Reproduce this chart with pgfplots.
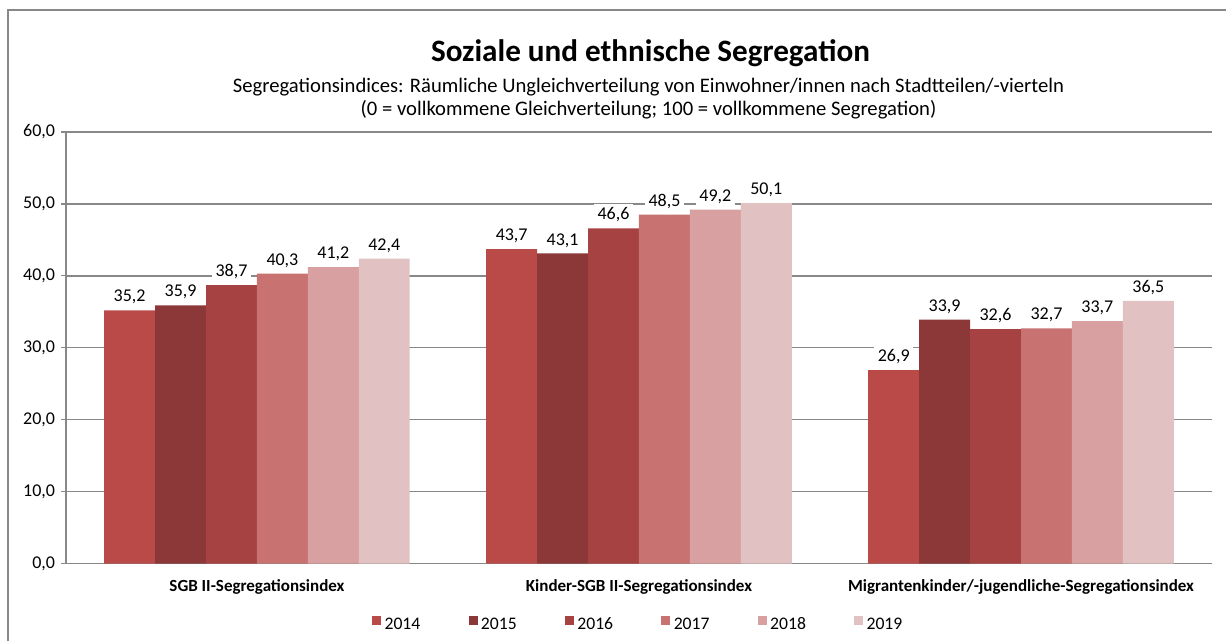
\documentclass[border=0pt]{standalone}
\usepackage{pgfplots}
\pgfplotsset{compat=1.18}
\usepackage{fontspec}
\setmainfont{Carlito}
\definecolor{cA}{HTML}{B94A47}
\definecolor{cB}{HTML}{8C3838}
\definecolor{cC}{HTML}{A64241}
\definecolor{cD}{HTML}{C87271}
\definecolor{cE}{HTML}{D8A0A0}
\definecolor{cF}{HTML}{E2C1C3}
\definecolor{gridc}{HTML}{888888}
\begin{document}
\begin{tikzpicture}[x=0.6pt,y=0.6pt]
\begin{axis}[
  width=688.2pt, height=259.2pt, scale only axis,
  ybar=0pt, bar width=0.1333,
  xmin=-0.5, xmax=2.5, ymin=0, ymax=60,
  ytick={0,10,...,60},
  xtick={0,1,2},
  xticklabels={SGB II-Segregationsindex, Kinder-SGB II-Segregationsindex, Migrantenkinder/-jugendliche-Segregationsindex},
  xticklabel style={font=\fontsize{10.2}{12}\selectfont\bfseries, yshift=-3pt},
  x tick style={draw=none},
  extra x ticks={-0.5,0.5,1.5,2.5},
  extra x tick labels={},
  extra x tick style={tick style={draw=gridc, line width=0.8pt}, major tick length=4pt, tick align=outside, grid=none},
  ymajorgrids, grid style={gridc, line width=0.9pt},
  axis line style={gridc, line width=0.9pt},
  axis x line*=bottom, axis y line*=left,
  y tick style={draw=gridc, line width=0.8pt}, major tick length=3pt, tick align=outside,
  yticklabel style={font=\fontsize{10.8}{13}\selectfont, /pgf/number format/.cd, fixed, fixed zerofill, precision=1, use comma, assume math mode=true},
  nodes near coords,
  every node near coord/.append style={font=\fontsize{10.8}{13}\selectfont, fill=white, inner sep=2pt, yshift=1.5pt, /pgf/number format/.cd, fixed, fixed zerofill, precision=1, use comma, assume math mode=true},
  legend columns=6,
  legend style={draw=none, at={(0.5,-0.141)}, anchor=center, font=\fontsize{10.6}{13}\selectfont,
    nodes={text height=1.6ex, text depth=0.2ex},
    column sep=0pt, /tikz/every odd column/.append style={column sep=0pt},
    /tikz/every even column/.append style={column sep=27pt}},
  legend image code/.code={\fill[#1] (0pt,-0.4pt) rectangle (5.4pt,5pt);},
]
\addplot[fill=cA, draw=none] coordinates {(0,35.2) (1,43.7) (2,26.9)};
\addplot[fill=cB, draw=none] coordinates {(0,35.9) (1,43.1) (2,33.9)};
\addplot[fill=cC, draw=none] coordinates {(0,38.7) (1,46.6) (2,32.6)};
\addplot[fill=cD, draw=none] coordinates {(0,40.3) (1,48.5) (2,32.7)};
\addplot[fill=cE, draw=none] coordinates {(0,41.2) (1,49.2) (2,33.7)};
\addplot[fill=cF, draw=none] coordinates {(0,42.4) (1,50.1) (2,36.5)};
\legend{2014,2015,2016,2017,2018,2019}
\end{axis}
\begin{scope}[shift={(-66,-78)}]
\path (0,0) rectangle (1227,642);
\draw[gridc,line width=1.2pt] (8,0) -- (8,632) -- (1227,632);
\node[font=\fontsize{18.7}{22}\selectfont\bfseries] at (651,589) {Soziale und ethnische Segregation};
\node[font=\fontsize{12.4}{15}\selectfont] at (649,555) {Segregationsindices: Räumliche Ungleichverteilung von Einwohner/innen nach Stadtteilen/-vierteln};
\node[font=\fontsize{12.4}{15}\selectfont] at (649,532) {(0 = vollkommene Gleichverteilung; 100 = vollkommene Segregation)};
\end{scope}
\end{tikzpicture}
\end{document}
